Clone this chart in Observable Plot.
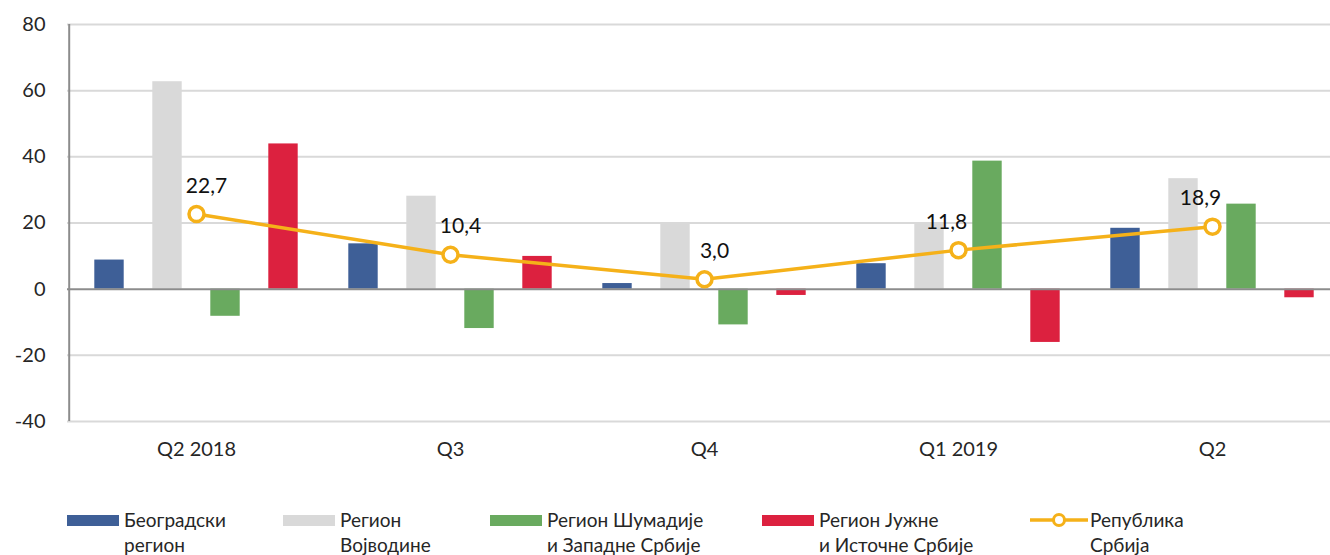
<!DOCTYPE html>
<html>
<head>
<meta charset="utf-8">
<script src="https://cdn.jsdelivr.net/npm/d3@7"></script>
<script src="https://cdn.jsdelivr.net/npm/@observablehq/plot@0.6"></script>
<style>
  html, body { margin: 0; padding: 0; background: #fff; overflow: hidden; }
  body { width: 1330px; height: 555px; position: relative; font-family: Lato, "Open Sans", sans-serif; }
  #chart { position: absolute; left: 0; top: 0; width: 1340px; }
  #chart svg { max-width: none !important; }
  #legend { position: absolute; left: 0; top: 507px; width: 1330px; height: 48px; }
  .item { position: absolute; top: 0; display: flex; align-items: flex-start; }
  .sw { width: 52px; height: 11px; margin-top: 8px; margin-right: 5px; flex: none; }
  .lbl { font-size: 19px; line-height: 25px; color: #262626; }
</style>
</head>
<body>
<div id="chart"></div>
<div id="legend"></div>
<script>
const quarters = ["Q2 2018", "Q3", "Q4", "Q1 2019", "Q2"];
const belgrade = [8.8, 13.7, 1.7, 7.7, 18.4];
const vojvodina = [62.7, 28.1, 19.9, 19.7, 33.4];
const sumadija = [-8.2, -11.9, -10.8, 38.7, 25.7];
const southEast = [43.9, 9.9, -1.9, -16.1, -2.6];
const serbia = [22.7, 10.4, 3.0, 11.8, 18.9];
const seriesNames = [
  "Београдски регион",
  "Регион Војводине",
  "Регион Шумадије и Западне Србије",
  "Регион Јужне и Источне Србије",
  "Република Србија"
];
const legendLines = [
  ["Београдски", "регион"],
  ["Регион", "Војводине"],
  ["Регион Шумадије", "и Западне Србије"],
  ["Регион Јужне", "и Источне Србије"],
  ["Република", "Србија"]
];
const yTicks = [-40, -20, 0, 20, 40, 60, 80];
const colors = ["#3e5f97", "#d9d9d9", "#69aa5f", "#dc213f", "#f5b119"];

const W = 1340, H = 470, mL = 67, mR = 0, mT = 24, mB = 49;
const bandW = (W - mL - mR) / quarters.length;
const barW = 30, barStep = 58;
const inset = (bandW - barW) / 2;

const barSeries = [belgrade, vojvodina, sumadija, southEast];
const barMarks = barSeries.map((vals, s) =>
  Plot.barY(quarters.map((q, i) => ({q, v: vals[i]})), {
    x: "q", y: "v", fill: colors[s],
    insetLeft: inset, insetRight: inset,
    dx: (s - 1.5) * barStep
  })
);
const lineData = quarters.map((q, i) => ({q, v: serbia[i], label: serbia[i].toFixed(1).replace(".", ",")}));

const chart = Plot.plot({
  width: W, height: H,
  marginLeft: mL, marginRight: mR, marginTop: mT, marginBottom: mB,
  style: {fontFamily: "Lato, 'Open Sans', sans-serif", fontSize: "20px", color: "#262626", background: "white", maxWidth: "none"},
  x: {domain: quarters, padding: 0, label: null, tickSize: 0, tickPadding: 20},
  y: {domain: [-40, 80], ticks: yTicks, label: null, tickSize: 0, tickPadding: 22, tickFormat: d => String(d)},
  marks: [
    Plot.ruleY(yTicks.filter(t => t !== 0), {stroke: "#d9d9d9", strokeWidth: 2}),
    ...barMarks,
    Plot.ruleY([0], {stroke: "#8c8c8c", strokeWidth: 2}),
    Plot.ruleX([0], {x: () => quarters[0], y1: -40, y2: 80, stroke: "#8c8c8c", strokeWidth: 2, dx: -bandW / 2}),
    Plot.line(lineData, {x: "q", y: "v", stroke: colors[4], strokeWidth: 3.5}),
    Plot.dot(lineData, {x: "q", y: "v", r: 7.5, fill: "white", stroke: colors[4], strokeWidth: 3.5}),
    Plot.text(lineData.slice(0, 3), {x: "q", y: "v", text: "label", dy: -28, dx: 10, fontSize: 21, fill: "#111"}),
    Plot.text(lineData.slice(3), {x: "q", y: "v", text: "label", dy: -28, dx: -12, fontSize: 21, fill: "#111"})
  ]
});
document.getElementById("chart").appendChild(chart);

const lefts = [67, 283, 490, 762, 1030];
const legend = document.getElementById("legend");
seriesNames.forEach((name, i) => {
  const item = document.createElement("div");
  item.className = "item";
  item.style.left = lefts[i] + "px";
  item.title = name;
  let sw;
  if (i < 4) {
    sw = document.createElement("div");
    sw.className = "sw";
    sw.style.background = colors[i];
  } else {
    sw = document.createElementNS("http://www.w3.org/2000/svg", "svg");
    sw.setAttribute("width", 58);
    sw.setAttribute("height", 26);
    sw.style.marginRight = "2px";
    sw.style.flex = "none";
    sw.innerHTML = `<line x1="0" y1="13" x2="58" y2="13" stroke="${colors[4]}" stroke-width="3.5"/>` +
      `<circle cx="29" cy="13" r="5.5" fill="white" stroke="${colors[4]}" stroke-width="3"/>`;
  }
  item.appendChild(sw);
  const lbl = document.createElement("div");
  lbl.className = "lbl";
  lbl.innerHTML = legendLines[i].join("<br>");
  item.appendChild(lbl);
  legend.appendChild(item);
});
</script>
</body>
</html>
